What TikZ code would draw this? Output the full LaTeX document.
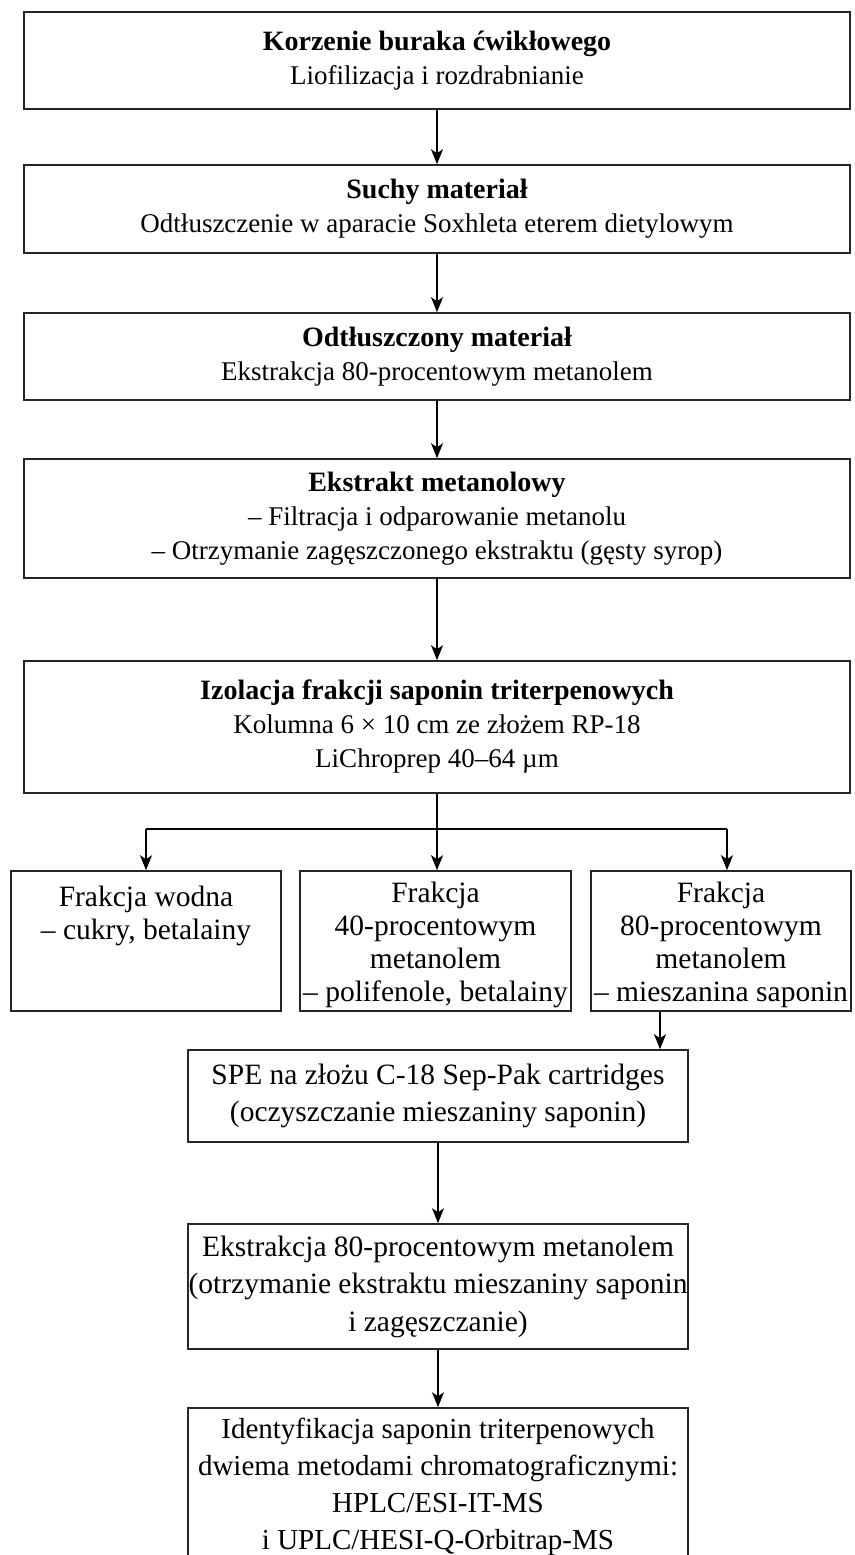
\documentclass[tikz,border=0pt]{standalone}
\usepackage{fontspec}
\setmainfont{Liberation Serif}
\usetikzlibrary{arrows.meta}
\begin{document}
\begin{tikzpicture}[x=1pt,y=-1pt,
  box/.style={draw=black!85, line width=1.6pt, align=center, inner sep=0pt,
              font=\fontsize{27}{34}\selectfont},
  lbox/.style={box, font=\fontsize{29.5}{33}\selectfont},
  arr/.style={line width=1.3pt, -{Stealth[length=15pt,width=12pt,inset=4pt]}},
  ln/.style={line width=1.3pt}]
\newcommand{\ttlfont}{\fontsize{28}{34}\selectfont\bfseries}
\newcommand{\tstrut}{\rule{0pt}{29pt}}
\useasboundingbox[fill=white] (0,0) rectangle (854,1555);
\node[box, minimum width=826, minimum height=97] (b1) at (437,60.5)
  {{\ttlfont Korzenie buraka ćwikłowego}\\Liofilizacja i rozdrabnianie};
\node[box, minimum width=826, minimum height=88] (b2) at (437,209)
  {{\ttlfont Suchy materiał}\\Odtłuszczenie w aparacie Soxhleta eterem dietylowym};
\node[box, minimum width=826, minimum height=87] (b3) at (437,356.5)
  {{\ttlfont Odtłuszczony materiał}\\Ekstrakcja 80-procentowym metanolem};
\node[box, minimum width=826, minimum height=119] (b4) at (437,518.5)
  {{\ttlfont Ekstrakt metanolowy}\\– Filtracja i odparowanie metanolu\\– Otrzymanie zagęszczonego ekstraktu (gęsty syrop)};
\node[box, minimum width=826, minimum height=132] (b5) at (437,727)
  {{\ttlfont Izolacja frakcji saponin triterpenowych}\\Kolumna 6 × 10 cm ze złożem RP-18\\LiChroprep 40–64 µm};
\node[lbox, minimum width=270, minimum height=140] (b6) at (146,941)
  {\tstrut Frakcja wodna\\– cukry, betalainy\\\mbox{}\\\mbox{}};
\node[lbox, minimum width=271, minimum height=140] (b7) at (435.5,941)
  {\tstrut Frakcja\\40-procentowym\\metanolem\\– polifenole, betalainy};
\node[lbox, minimum width=260, minimum height=140] (b8) at (721,941)
  {\tstrut Frakcja\\80-procentowym\\metanolem\\– mieszanina saponin};
\node[lbox, font=\fontsize{29.5}{37}\selectfont, minimum width=500, minimum height=92] (b9) at (438,1096)
  {SPE na złożu C-18 Sep-Pak cartridges\\(oczyszczanie mieszaniny saponin)};
\node[lbox, font=\fontsize{29.5}{37.5}\selectfont, minimum width=500, minimum height=125] (b10) at (438,1286.5)
  {Ekstrakcja 80-procentowym metanolem\\(otrzymanie ekstraktu mieszaniny saponin\\i zagęszczanie)};
\node[lbox, font=\fontsize{29}{37}\selectfont, minimum width=500, minimum height=157] (b11) at (438,1486.5)
  {Identyfikacja saponin triterpenowych\\dwiema metodami chromatograficznymi:\\HPLC/ESI-IT-MS\\i UPLC/HESI-Q-Orbitrap-MS};
\coordinate (br) at (437,829);
\coordinate (sx) at (660,0);
\draw[arr] (b1) -- (b2);
\draw[arr] (b2) -- (b3);
\draw[arr] (b3) -- (b4);
\draw[arr] (b4) -- (b5);
\draw[ln] (b5.south -| br) -- (br);
\draw[ln] (br -| b6) -- (br) -- ([xshift=6pt]br -| b8);
\draw[arr] (br -| b6) -- (b6.north);
\draw[arr] (br) -- (br |- b7.north);
\draw[arr] ([xshift=6pt]br -| b8) -- ([xshift=6pt]b8.north);
\draw[arr] (b8.south -| sx) -- (b9.north -| sx);
\draw[arr] (b9.south -| b10) -- (b10.north);
\draw[arr] (b10) -- (b11);
\end{tikzpicture}
\end{document}
